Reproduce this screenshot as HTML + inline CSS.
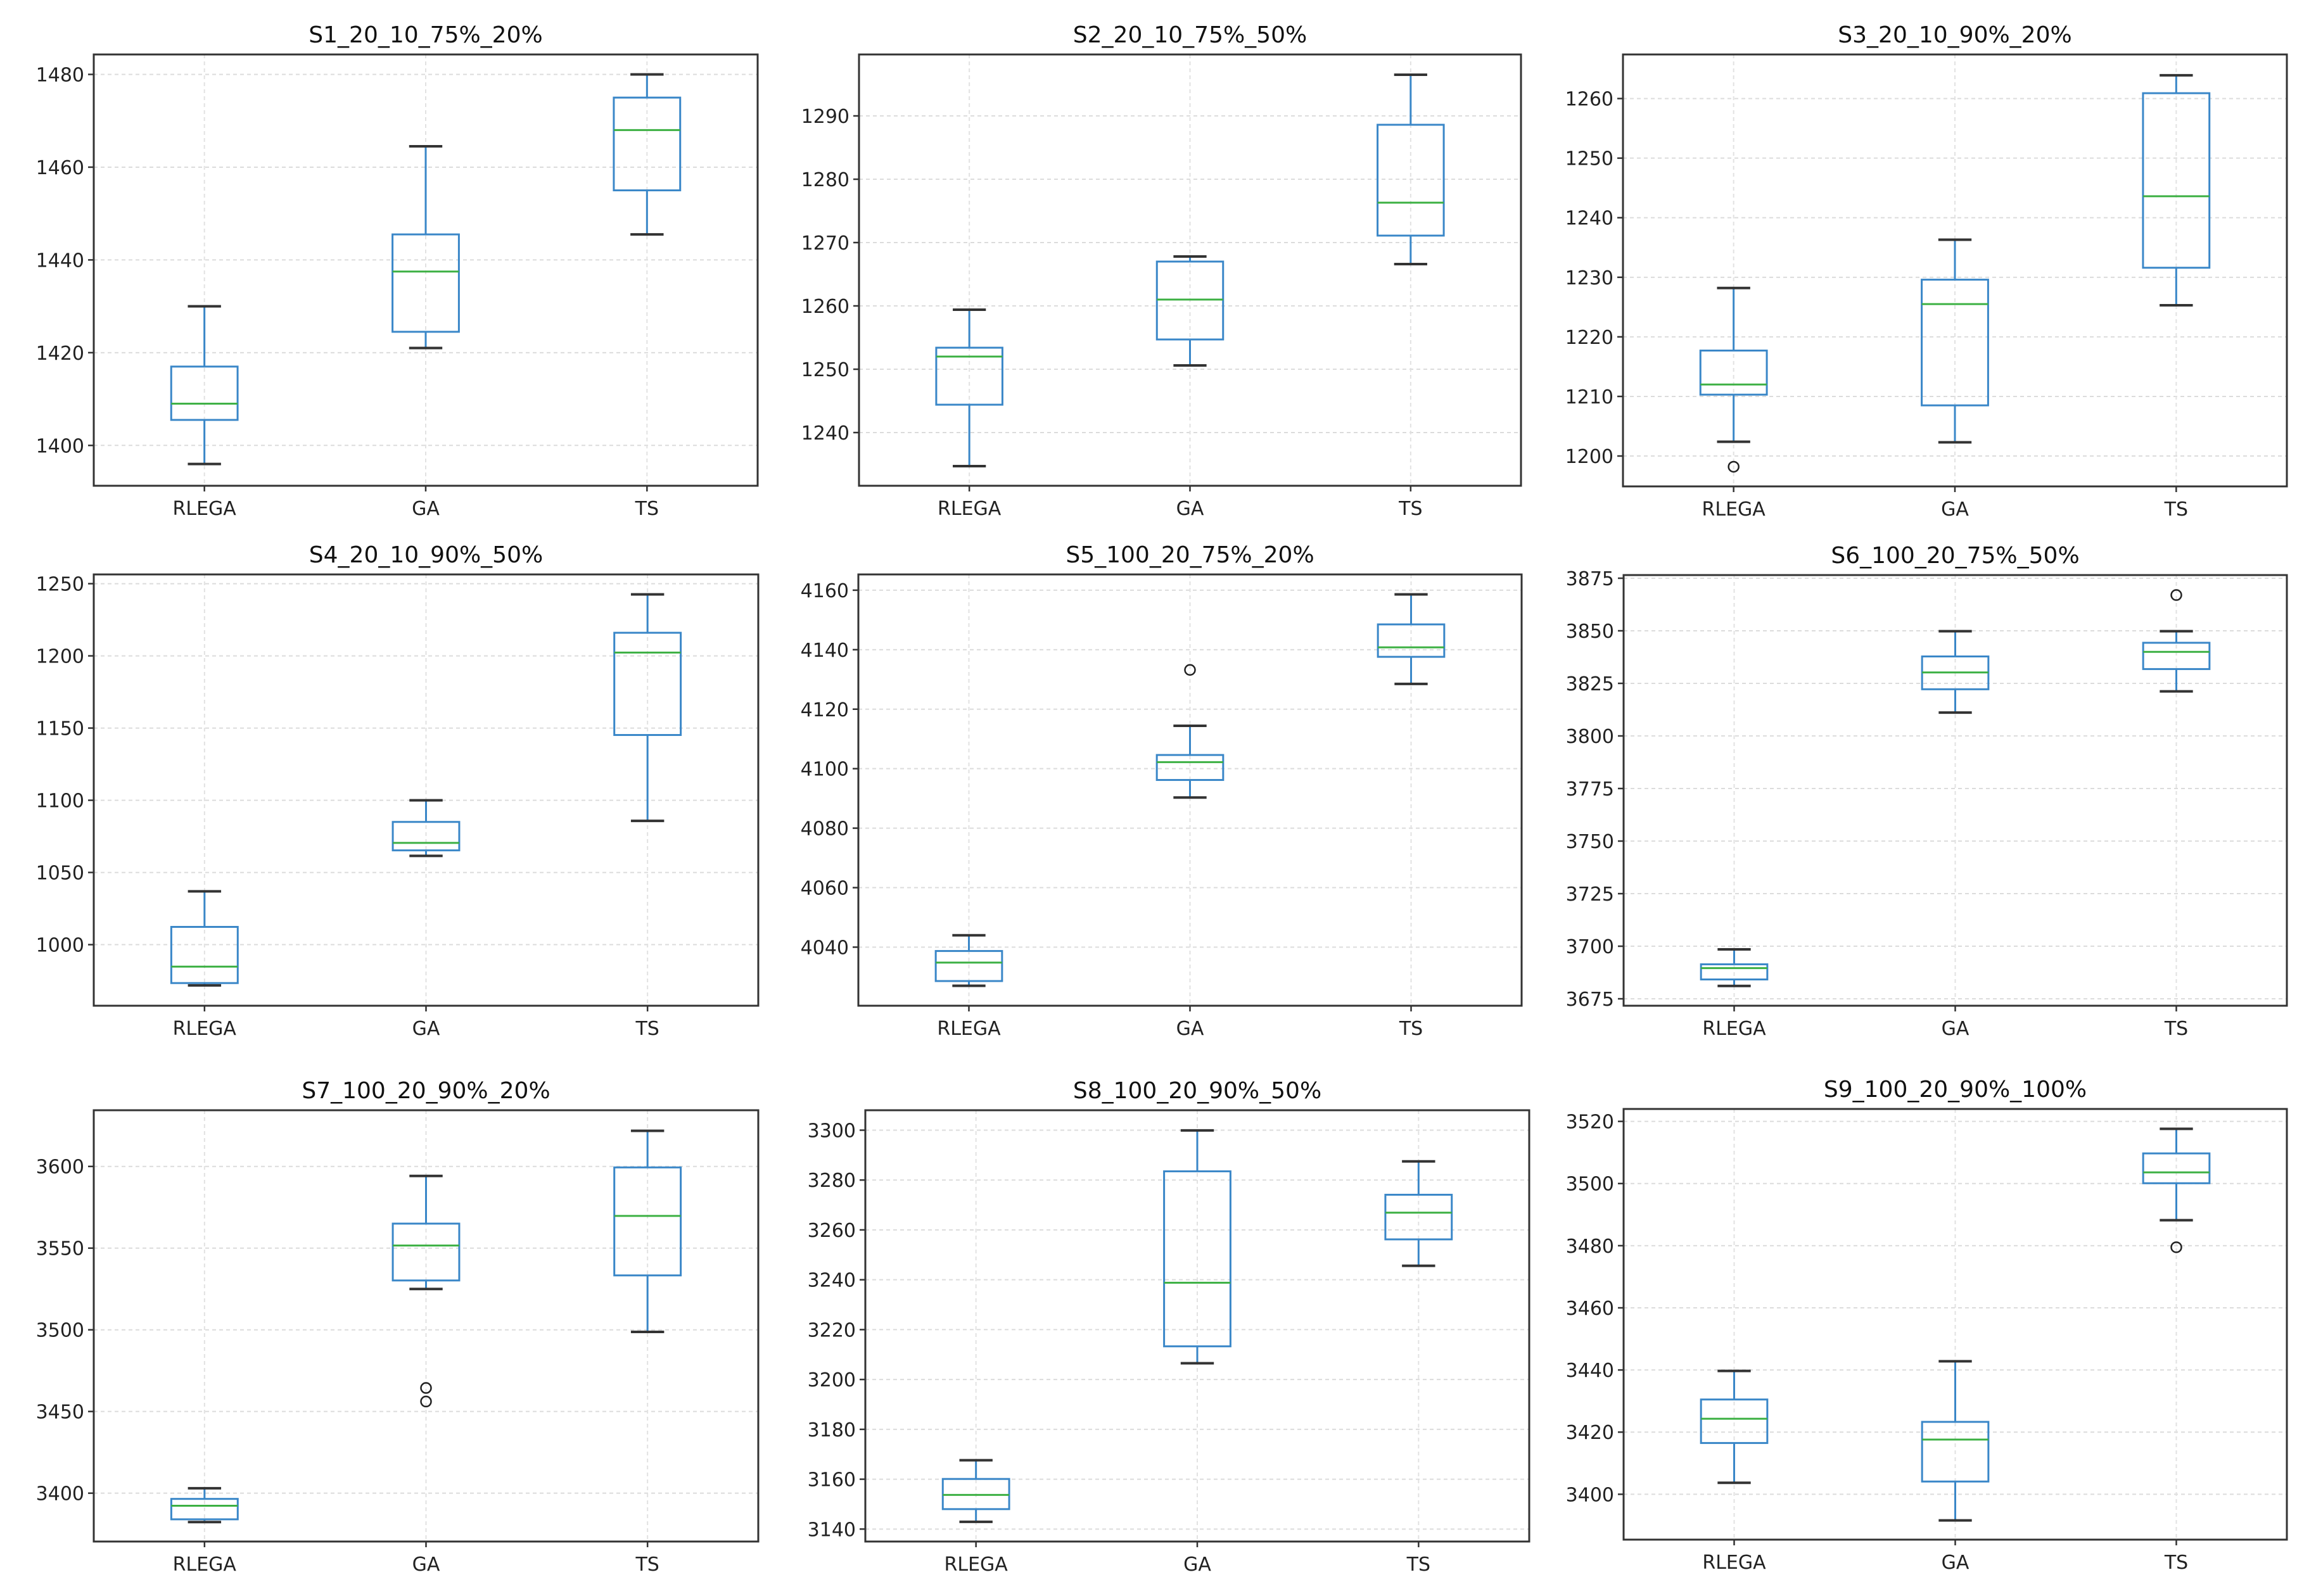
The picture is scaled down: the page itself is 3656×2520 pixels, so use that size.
<!DOCTYPE html>
<html><head><meta charset="utf-8">
<style>
html,body{margin:0;padding:0;background:#fff;}
svg{display:block;font-family:"DejaVu Sans","Liberation Sans",sans-serif;}
</style></head>
<body>
<svg id="fig" width="3656" height="2520" viewBox="0 0 3656 2520" xmlns="http://www.w3.org/2000/svg"></svg>
<script>
// Data: per panel [whislo, q1, median, q3, whishi] for RLEGA, GA, TS
const categories = ["RLEGA", "GA", "TS"];
const titles = ["S1_20_10_75%_20%","S2_20_10_75%_50%","S3_20_10_90%_20%","S4_20_10_90%_50%","S5_100_20_75%_20%","S6_100_20_75%_50%","S7_100_20_90%_20%","S8_100_20_90%_50%","S9_100_20_90%_100%"];
const stats1 = [[1396,1405.5,1409,1417,1430],[1421,1424.5,1437.5,1445.5,1464.5],[1445.5,1455,1468,1475,1480]];
const stats2 = [[1234.7,1244.4,1252.0,1253.4,1259.4],[1250.6,1254.7,1261.0,1267.0,1267.8],[1266.6,1271.1,1276.3,1288.6,1296.5]];
const stats3 = [[1202.4,1210.3,1212.0,1217.7,1228.2],[1202.3,1208.5,1225.5,1229.6,1236.3],[1225.3,1231.6,1243.6,1260.9,1263.9]];
const stats4 = [[971.8,973.4,984.8,1012.3,1036.9],[1061.5,1065.3,1070.5,1085,1100],[1085.7,1145.2,1202.3,1216,1242.6]];
const stats5 = [[4027,4028.6,4034.8,4038.7,4044],[4090.3,4096.2,4102.2,4104.6,4114.4],[4128.5,4137.6,4140.8,4148.5,4158.6]];
const stats6 = [[3681.1,3684.2,3689.6,3691.4,3698.5],[3811.1,3822.2,3830.2,3837.8,3849.8],[3821.2,3831.8,3840,3844.3,3849.8]];
const stats7 = [[3382.3,3384,3392.3,3396.5,3403],[3525,3530.2,3551.6,3565,3594.2],[3498.7,3533.3,3569.7,3599.4,3621.8]];
const stats8 = [[3142.9,3148,3153.7,3160.1,3167.6],[3206.5,3213.3,3238.8,3283.5,3299.9],[3245.6,3256.2,3266.9,3274.1,3287.5]];
const stats9 = [[3403.7,3416.5,3424.3,3430.5,3439.7],[3391.6,3404.1,3417.6,3423.3,3442.8],[3488.2,3500.1,3503.6,3509.7,3517.6]];
// Outliers: [panelIndex, categoryIndex, value]
const fliers = [[2,0,1198.2],[4,1,4133.2],[5,2,3867],[6,1,3464.4],[6,1,3456.1],[8,2,3479.5]];
// Y ticks per panel
const ticks1 = [1400,1420,1440,1460,1480];
const ticks2 = [1240,1250,1260,1270,1280,1290];
const ticks3 = [1200,1210,1220,1230,1240,1250,1260];
const ticks4 = [1000,1050,1100,1150,1200,1250];
const ticks5 = [4040,4060,4080,4100,4120,4140,4160];
const ticks6 = [3675,3700,3725,3750,3775,3800,3825,3850,3875];
const ticks7 = [3400,3450,3500,3550,3600];
const ticks8 = [3140,3160,3180,3200,3220,3240,3260,3280,3300];
const ticks9 = [3400,3420,3440,3460,3480,3500,3520];
// Y domains [min,max]
const dom1=[1391.3,1484.3], dom2=[1231.6,1299.7], dom3=[1194.9,1267.4], dom4=[957.7,1256.4], dom5=[4020.3,4165.3], dom6=[3671.7,3876.5], dom7=[3370.4,3634.4], dom8=[3135,3308], dom9=[3385.4,3524];

const allStats=[stats1,stats2,stats3,stats4,stats5,stats6,stats7,stats8,stats9];
const allTicks=[ticks1,ticks2,ticks3,ticks4,ticks5,ticks6,ticks7,ticks8,ticks9];
const allDom=[dom1,dom2,dom3,dom4,dom5,dom6,dom7,dom8,dom9];
// layout (not data)
const layout=[[148,86,1048,681],[1356,86,1045,681],[2562,86,1048,682],
              [148,907,1049,681],[1355,907,1047,681],[2563,908,1047,680],
              [148,1753,1049,681],[1366,1753,1048,681],[2563,1751,1047,680]];

const NS="http://www.w3.org/2000/svg";
const fig=document.getElementById('fig');
function mk(tag,attrs,parent){const e=document.createElementNS(NS,tag);for(const k in attrs)e.setAttribute(k,attrs[k]);parent.appendChild(e);return e;}

for(let p=0;p<9;p++){
  const [L,T,W,H]=layout[p];
  const dom=allDom[p];
  const y=v=>T+H-(v-dom[0])/(dom[1]-dom[0])*H;
  const x=i=>L+(i+0.5)/3*W;
  const g=mk('g',{},fig);
  
  
  allTicks[p].forEach(t=>{
    const gl=mk('line',{x1:L,x2:L+W,y1:y(t),y2:y(t),stroke:'#dcdcdc','stroke-width':2,'stroke-dasharray':'6,5'},g);
    
    
    const tk=mk('line',{x1:L-9,x2:L,y1:y(t),y2:y(t),stroke:'#333','stroke-width':2.5},g);
    
    
    const tl=mk('text',{x:L-15,y:y(t)+11,'text-anchor':'end','font-size':30,fill:'#222'},g);
    tl.textContent=t;
    
    
  });
  categories.forEach((c,i)=>{
    const gl=mk('line',{x1:x(i),x2:x(i),y1:T,y2:T+H,stroke:'#e2e2e2','stroke-width':2,'stroke-dasharray':'6,5'},g);
    
    
    const tk=mk('line',{x1:x(i),x2:x(i),y1:T+H,y2:T+H+9,stroke:'#333','stroke-width':2.5},g);
    
    
    const tl=mk('text',{x:x(i),y:T+H+46,'text-anchor':'middle','font-size':30,fill:'#222'},g);
    tl.textContent=c;
    
    
  });
  allStats[p].forEach((s,i)=>{
    const cx=x(i), bw=0.3/3*W, cw=0.15/3*W;
    const bg=mk('g',{},g);
    
    
    mk('line',{x1:cx,x2:cx,y1:y(s[0]),y2:y(s[1]),stroke:'#3a87c8','stroke-width':3},bg);
    mk('line',{x1:cx,x2:cx,y1:y(s[3]),y2:y(s[4]),stroke:'#3a87c8','stroke-width':3},bg);
    mk('line',{x1:cx-cw/2,x2:cx+cw/2,y1:y(s[0]),y2:y(s[0]),stroke:'#333','stroke-width':4},bg);
    mk('line',{x1:cx-cw/2,x2:cx+cw/2,y1:y(s[4]),y2:y(s[4]),stroke:'#333','stroke-width':4},bg);
    mk('rect',{x:cx-bw/2,y:y(s[3]),width:bw,height:y(s[1])-y(s[3]),fill:'none',stroke:'#3a87c8','stroke-width':3},bg);
    mk('line',{x1:cx-bw/2,x2:cx+bw/2,y1:y(s[2]),y2:y(s[2]),stroke:'#3cb043','stroke-width':3},bg);
  });
  fliers.filter(f=>f[0]===p).forEach(f=>{
    const c=mk('circle',{cx:x(f[1]),cy:y(f[2]),r:8,fill:'none',stroke:'#222','stroke-width':2.5},g);
    
    
  });
  const fr=mk('rect',{x:L,y:T,width:W,height:H,fill:'none',stroke:'#333','stroke-width':3},g);
  
  
  const tt=mk('text',{x:L+W/2,y:T-19,'text-anchor':'middle','font-size':36,fill:'#111'},g);
  tt.textContent=titles[p];
  
  
}
</script>
</body></html>
